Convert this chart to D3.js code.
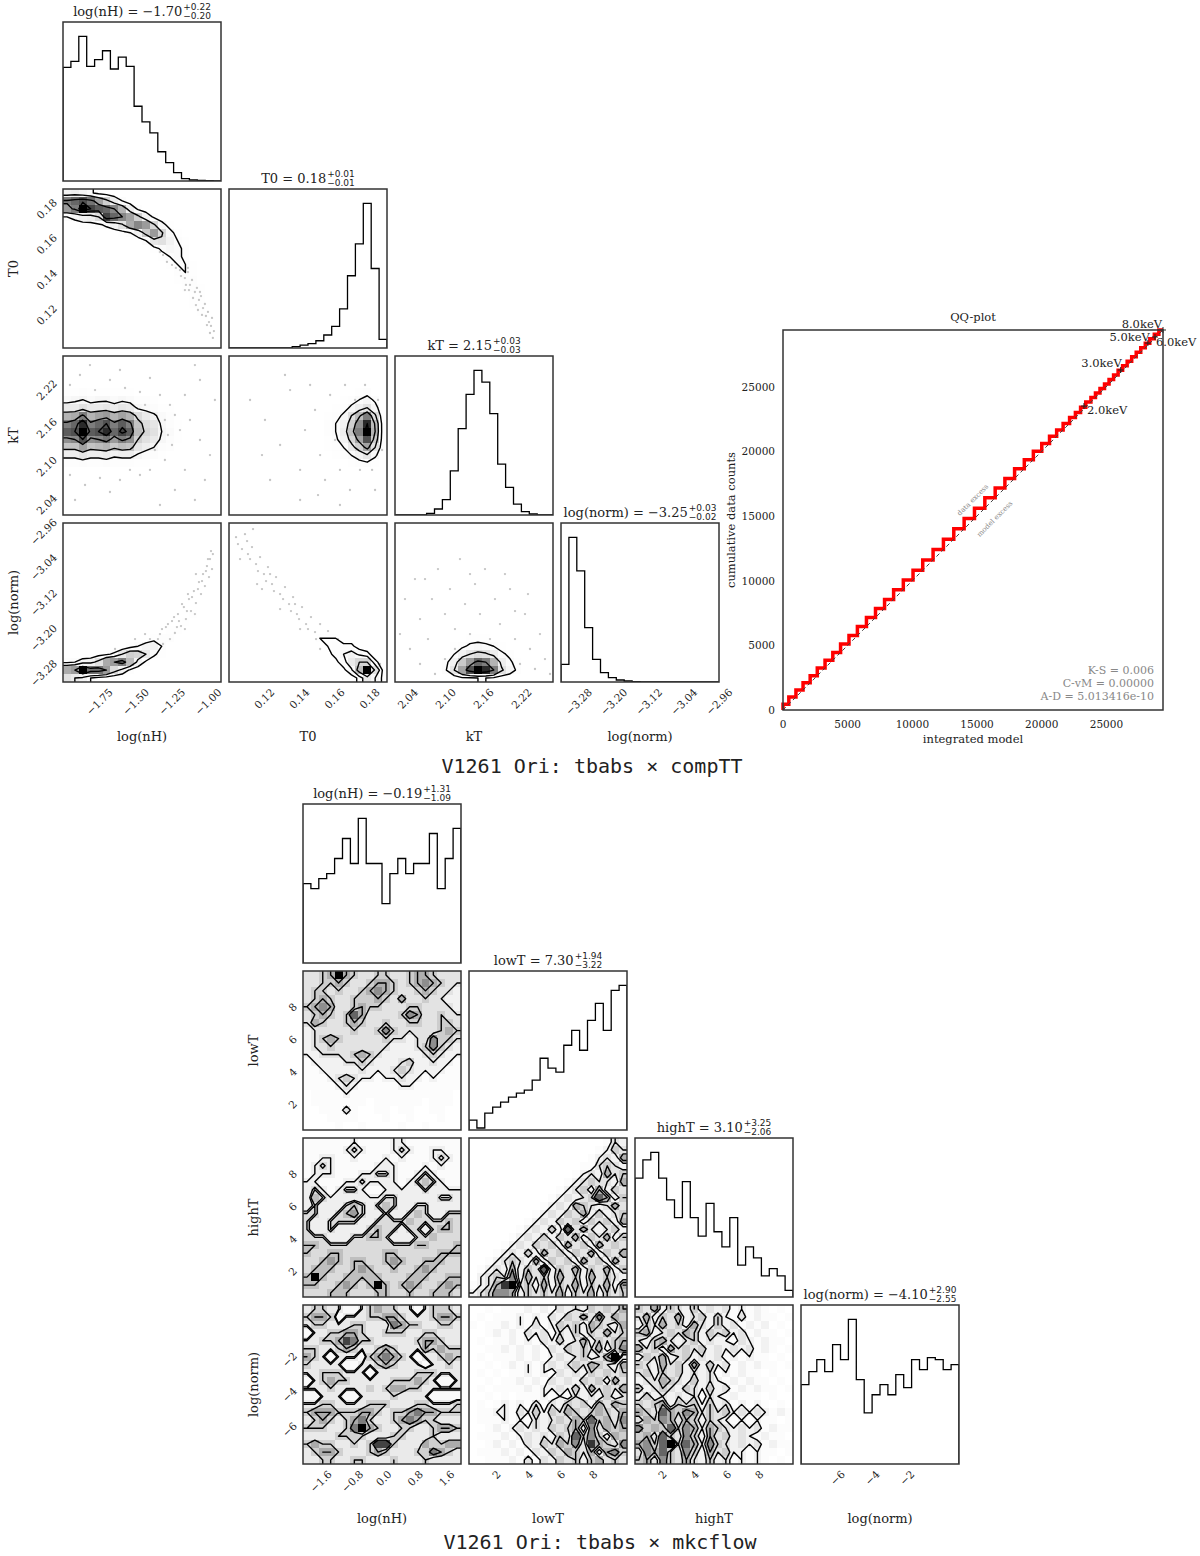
<!DOCTYPE html>
<html>
<head>
<meta charset="utf-8">
<title>V1261 Ori corner plots</title>
<script src="https://cdn.jsdelivr.net/npm/d3@7"></script>
<style>
  body { margin: 0; background: #fff; }
  svg text { font-family: "DejaVu Serif", serif; fill: #222; }
</style>
</head>
<body>
<svg id="chart" width="1200" height="1556"></svg>
<script>
// ---------- compTT fit (upper corner plot) ----------
var topNames = ["log(nH)", "T0", "kT", "log(norm)"];
var topRanges = [[-2.0, -0.91], [0.10, 0.19], [2.02, 2.27], [-3.32, -2.96]];
var topTicks = [[-1.75, -1.5, -1.25, -1.0], [0.12, 0.14, 0.16, 0.18], [2.04, 2.10, 2.16, 2.22], [-3.28, -3.20, -3.12, -3.04, -2.96]];
var topTitles = [["log(nH) = −1.70", "+0.22", "−0.20"], ["T0 = 0.18", "+0.01", "−0.01"],
                 ["kT = 2.15", "+0.03", "−0.03"], ["log(norm) = −3.25", "+0.03", "−0.02"]];

var topHistNH = [342, 360, 435, 345, 365, 392, 337, 373, 345, 225, 178, 145, 88, 55, 25, 7, 3, 2, 1, 0];
var topHistT0 = [0, 0, 0, 0, 0, 0, 0, 0, 1, 2, 3, 5, 9, 15, 27, 50, 72, 100, 55, 6];
var topHistKT = [0, 0, 0, 0, 5, 18, 46, 133, 260, 363, 435, 400, 305, 153, 83, 33, 10, 3, 0, 0];
var topHistNorm = [53, 433, 333, 163, 68, 28, 13, 6, 3, 1, 0, 0, 0, 0, 0, 0, 0, 0, 0, 0];

// 2D histograms, 20x20, top row = highest y value, base-36 counts
var gridT0NH = [
  "89752100000000000000", "prtqlf94100000000000", "mpzusroj931000000000", "4689durolf8310000000",
  "1122358ckome62100000", "0000011248gme6210000", "00000000014bc8421000", "00000000000256531000",
  "00000000000024531000", "00000000000002442000", "00000000000001342100", "00000000000000233100",
  "00000000000000123200", "00000000000000012210", "00000000000000002210", "00000000000000001210",
  "00000000000000000110", "00000000000000000010", "00000000000000000000", "00000000000000000000"];
var gridKTNH = [
  "00000000000000000000", "00000000000000000000", "00000000000000000000", "11111111100000000000",
  "22322222211100000000", "56756656533211000000", "aacaab9ba65422100000", "jkpjlmjljda853110000",
  "prwprtpsphdb64210000", "stzstwrusiec75210000", "notnoqmpnfca64210000", "hhlhijgihb9743100000",
  "99b99a89964421100000", "33433433322110000000", "11111111111000000000", "00000000000000000000",
  "00000000000000000000", "00000000000000000000", "00000000000000000000", "00000000000000000000"];
var gridKTT0 = [
  "00000000000000000000", "00000000000000000000", "00000000000000000000", "00000000000000000100",
  "00000000000000112310", "00000000000001235740", "00000000000012369c71", "000000000001236cipd1",
  "000000000011358fnwi2", "000000000011359hpzj2", "000000000001248eltg2", "000000000000235aflc1",
  "00000000000012358b61", "00000000000000123420", "00000000000000001110", "00000000000000000000",
  "00000000000000000000", "00000000000000000000", "00000000000000000000", "00000000000000000000"];
var gridNormNH = [
  "00000000000000000000", "00000000000000000000", "00000000000000000000", "00000000000000000000",
  "00000000000000000001", "00000000000000000001", "00000000000000000010", "00000000000000000010",
  "00000000000000000110", "00000000000000000100", "00000000000000001100", "00000000000000012000",
  "00000000000000121000", "00000000000002210000", "00000000000233100000", "00000000247841000000",
  "0000235afea520000000", "3478ckmpi83100000000", "kmzqqmd8310000000000", "ca842100000000000000"];
var gridNormT0 = [
  "00000000000000000000", "00000000000000000000", "00000000000000000000", "00000000000000000000",
  "00000000000000000000", "00100000000000000000", "00010000000000000000", "00001000000000000000",
  "00000100000000000000", "00000110000000000000", "00000011000000000000", "00000001100000000000",
  "00000000111000000000", "00000000011100000000", "00000000001222000000", "00000000000123330000",
  "00000000000013685300", "000000000000014aee30", "0000000000000015izc1", "00000000000000003a61"];
var gridNormKT = [
  "00000000000000000000", "00000000000000000000", "00000000000000000000", "00000000000000000000",
  "00000000000000000000", "00000000000000000000", "00000000000000000000", "00000000000000000000",
  "00000000000000000000", "00000000000000000000", "00000000000000000000", "00000000000000000000",
  "00000000011100000000", "00000000111110000000", "00000001122211000000", "00000002356542110000",
  "000000148bdc95310000", "00000138gmrpj9521000", "0000014bltzwpc731000", "00000001334431100000"];

// posterior samples visible outside the contours
var ptsT0NH = [[-1.400, 0.1657], [-1.359, 0.1634], [-1.331, 0.1583], [-1.317, 0.1623], [-1.297, 0.1555], [-1.276, 0.1589],
  [-1.262, 0.1521], [-1.241, 0.1555], [-1.228, 0.1487], [-1.207, 0.1509], [-1.193, 0.1441], [-1.172, 0.1475],
  [-1.159, 0.1396], [-1.138, 0.1430], [-1.124, 0.1357], [-1.110, 0.1385], [-1.090, 0.1317], [-1.076, 0.1340],
  [-1.062, 0.1272], [-1.048, 0.1294], [-1.034, 0.1226], [-1.021, 0.1249], [-1.014, 0.1181], [-1.000, 0.1204],
  [-0.993, 0.1147], [-0.979, 0.1125], [-0.972, 0.1170], [-0.959, 0.1096], [-1.083, 0.1243], [-1.159, 0.1328],
  [-1.248, 0.1470], [-1.331, 0.1543], [-1.345, 0.1668], [-1.434, 0.1679], [-1.814, 0.1838], [-1.745, 0.1826],
  [-1.676, 0.1815], [-1.607, 0.1792], [-1.538, 0.1758], [-1.469, 0.1724], [-1.779, 0.1855], [-1.641, 0.1838],
  [-1.883, 0.1736], [-1.745, 0.1702], [-1.572, 0.1657], [-1.469, 0.1623],
  [-1.386, 0.1611], [-1.345, 0.1600], [-1.310, 0.1526], [-1.283, 0.1487], [-1.255, 0.1566], [-1.221, 0.1453],
  [-1.186, 0.1407], [-1.200, 0.1487], [-1.152, 0.1357], [-1.131, 0.1328], [-1.103, 0.1283], [-1.069, 0.1215],
  [-1.041, 0.1187], [-1.007, 0.1130], [-0.986, 0.1085], [-0.966, 0.1057], [-1.055, 0.1317], [-1.138, 0.1453]];
var ptsKTNH = [[-1.952, 2.2244], [-1.883, 2.2401], [-1.779, 2.2165], [-1.676, 2.2323], [-1.572, 2.2197], [-1.469, 2.2134],
  [-1.400, 2.2354], [-1.331, 2.2087], [-1.262, 2.1930], [-1.228, 2.1772], [-1.193, 2.1536], [-1.248, 2.1301],
  [-1.297, 2.1065], [-1.400, 2.0908], [-1.469, 2.0829], [-1.607, 2.0750], [-1.745, 2.0782], [-1.848, 2.0672],
  [-1.952, 2.0829], [-1.124, 2.1694], [-1.055, 2.1379], [-0.986, 2.1143], [-1.021, 2.0750], [-1.090, 2.0436],
  [-1.159, 2.0908], [-1.228, 2.0593], [-1.331, 2.0357], [-0.952, 2.2008], [-1.055, 2.2323], [-1.159, 2.2087],
  [-1.297, 2.1694], [-1.276, 2.1458], [-1.366, 2.1222], [-1.434, 2.1930], [-1.538, 2.0908], [-1.676, 2.0562],
  [-1.917, 2.0436], [-1.814, 2.2558], [-1.607, 2.2480], [-1.090, 2.2558]];
var ptsKTT0 = [[0.1120, 2.2008], [0.1205, 2.1694], [0.1291, 2.1301], [0.1348, 2.2165], [0.1405, 2.0908], [0.1433, 2.1536],
  [0.1490, 2.1851], [0.1519, 2.1143], [0.1547, 2.0750], [0.1576, 2.2087], [0.1604, 2.1379], [0.1632, 2.0908],
  [0.1661, 2.2244], [0.1689, 2.0593], [0.1718, 2.2008], [0.1746, 2.0908], [0.1775, 2.2244], [0.1815, 2.0908],
  [0.1849, 2.2008], [0.1872, 2.1222], [0.1405, 2.0436], [0.1234, 2.0750], [0.1319, 2.2401], [0.1462, 2.2244],
  [0.1632, 2.0357], [0.1832, 2.0593], [0.1188, 2.1143], [0.1507, 2.0514]];
var ptsNormNH = [[-1.400, -3.2227], [-1.366, -3.2453], [-1.331, -3.2114], [-1.310, -3.2340], [-1.290, -3.1956],
  [-1.262, -3.2227], [-1.248, -3.1820], [-1.228, -3.2091], [-1.207, -3.1662], [-1.186, -3.1933], [-1.166, -3.1503],
  [-1.152, -3.1775], [-1.131, -3.1322], [-1.117, -3.1594], [-1.097, -3.1141], [-1.083, -3.1413], [-1.062, -3.0938],
  [-1.048, -3.1209], [-1.034, -3.0757], [-1.021, -3.1028], [-1.007, -3.0576], [-0.993, -3.0824], [-0.986, -3.0417],
  [-0.972, -3.0643], [-0.966, -3.0304], [-1.469, -3.2408], [-1.538, -3.2567], [-1.607, -3.2680], [-1.676, -3.2725],
  [-1.745, -3.2793], [-1.814, -3.2815], [-1.641, -3.2453], [-1.503, -3.2227], [-1.434, -3.2114], [-1.159, -3.2001],
  [-1.090, -3.1662],
  [-1.386, -3.2340], [-1.345, -3.2227], [-1.317, -3.2001], [-1.276, -3.1888], [-1.234, -3.1729], [-1.214, -3.1956],
  [-1.179, -3.1435], [-1.145, -3.1594], [-1.110, -3.1277], [-1.069, -3.1096], [-1.041, -3.0915], [-1.014, -3.0689],
  [-1.000, -3.0417], [-0.979, -3.0236], [-1.083, -3.0757], [-1.138, -3.1209], [-1.200, -3.1820]];
var ptsNormT0 = [[0.1051, -3.0078], [0.1091, -2.9852], [0.1108, -3.0304], [0.1131, -3.0146], [0.1154, -3.0530],
  [0.1177, -3.0372], [0.1199, -3.0757], [0.1222, -3.0598], [0.1245, -3.0983], [0.1268, -3.0824], [0.1291, -3.1209],
  [0.1319, -3.1051], [0.1342, -3.1435], [0.1365, -3.1277], [0.1387, -3.1662], [0.1416, -3.1503], [0.1439, -3.1888],
  [0.1467, -3.1729], [0.1490, -3.2069], [0.1519, -3.1888], [0.1541, -3.2227], [0.1564, -3.2046], [0.1593, -3.2408],
  [0.1621, -3.2227], [0.1650, -3.2567], [0.1678, -3.2385], [0.1137, -2.9738], [0.1188, -3.1096], [0.1291, -3.1548],
  [0.1405, -3.2001], [0.1519, -3.2453], [0.1689, -3.2793], [0.1775, -3.2567], [0.1860, -3.2793], [0.1063, -3.0417],
  [0.1160, -3.0983],
  [0.1074, -3.0191], [0.1120, -3.0417], [0.1165, -3.0689], [0.1211, -3.0915], [0.1256, -3.1141], [0.1308, -3.1322],
  [0.1353, -3.1594], [0.1399, -3.1775], [0.1450, -3.2001], [0.1496, -3.2227], [0.1553, -3.2340], [0.1610, -3.2499],
  [0.1667, -3.2680], [0.1724, -3.2861], [0.1040, -2.9920], [0.1103, -3.0010], [0.1234, -3.0757], [0.1376, -3.1435]];
var ptsNormKT = [[2.0358, -3.1322], [2.0516, -3.0870], [2.0596, -3.1775], [2.0722, -3.2227], [2.0785, -3.1322],
  [2.0880, -3.0643], [2.0991, -3.1662], [2.1070, -3.1096], [2.1149, -3.2001], [2.1228, -3.0417], [2.1308, -3.1435],
  [2.1387, -3.2114], [2.1466, -3.0983], [2.1545, -3.1662], [2.1624, -3.0643], [2.1703, -3.2227], [2.1782, -3.1322],
  [2.1861, -3.1888], [2.1940, -3.2567], [2.2020, -3.1096], [2.2099, -3.2227], [2.2178, -3.2793], [2.2257, -3.1662],
  [2.2336, -3.2453], [2.2415, -3.2906], [2.2494, -3.2114], [2.2573, -3.2680], [2.2653, -3.3019], [2.0437, -3.2453],
  [2.0596, -3.2793], [2.0833, -3.3019], [2.0675, -3.0870], [2.1387, -3.0757], [2.1940, -3.0757], [2.1149, -3.2453],
  [2.1703, -3.2680], [2.2099, -3.1594], [2.0991, -3.2680], [2.0279, -3.2114], [2.2304, -3.1209]];

// ---------- mkcflow fit (lower corner plot) ----------
var botNames = ["log(nH)", "lowT", "highT", "log(norm)"];
var botRanges = [[-2.05, 1.97], [0.3, 10.1], [0.3, 10.1], [-8.1, 1.0]];
var botTicks = [[-1.6, -0.8, 0.0, 0.8, 1.6], [2, 4, 6, 8], [2, 4, 6, 8], [-6, -4, -2]];
var botTitles = [["log(nH) = −0.19", "+1.31", "−1.09"], ["lowT = 7.30", "+1.94", "−3.22"],
                 ["highT = 3.10", "+3.25", "−2.06"], ["log(norm) = −4.10", "+2.90", "−2.55"]];

var botHistNH = [238, 223, 253, 268, 313, 373, 298, 433, 298, 298, 178, 268, 313, 268, 298, 298, 388, 223, 313, 403];
var botHistLowT = [10, 2, 17, 23, 28, 33, 37, 40, 50, 72, 62, 58, 85, 100, 80, 110, 127, 100, 140, 145];
var botHistHighT = [355, 410, 432, 355, 290, 237, 345, 237, 182, 280, 195, 150, 237, 95, 150, 117, 63, 85, 63, 20];
var botHistNorm = [79, 92, 104, 92, 119, 104, 144, 84, 51, 69, 79, 69, 89, 76, 104, 94, 106, 104, 94, 99];

var gridLowTNH = [
  "33459543344334554333", "33445433455434565433", "34434334565433454332", "34543344454353343322",
  "45653345443334433332", "34543475333346533433", "35433454334334433443", "23333343346433333454",
  "23454333334332336443", "23343333333222346432", "22333345432222234322", "12222334322234223221",
  "11222223222343222211", "11123432212232212111", "11112321111122111111", "01111211111111111110",
  "01111111011111101110", "00111310011011001100", "00011110001001000100", "00001001000010010000"];
var gridHighTNH = [
  "11111121111221111111", "11111232111232112211", "11221121112121112321", "12321111122211121211",
  "12221112233211232111", "22111223222212343211", "23212332112222232222", "24322222223322222332",
  "23222343234322332222", "33223453223223432233", "32233332233334333343", "32232222343323323443",
  "33322233443222334333", "44333333333333443334", "43344333334433333444", "33454344334543344433",
  "34443345433433454333", "48433444443334443344", "44334543484345433454", "33344433344334334443"];
var gridHighTLowT = [
  "00000000000000000132", "00000000000000001243", "00000000000000012325", "00000000000000113432",
  "00000000000001232534", "00000000000012343325", "00000000000123425243", "00000000001232347524",
  "00000000012325432353", "00000000123243524234", "00000001232434243425", "00000012324273532342",
  "00000123242435243524", "00001232434253425343", "00012324253424352435", "00123432524342534253",
  "01232524372435243524", "02343625342534253432", "12358934252435243525", "23466524343524352434"];
var gridNormNHb = [
  "23322112343322123332", "34431222334432223443", "23322233222543322332", "12233443223332233222",
  "22334653322222344322", "33223432234322243433", "43212221345432122343", "32222112234322212232",
  "22333222122222333222", "12343322222333432112", "22232222323443322222", "11222112222322221111",
  "22332222333222332223", "34443334432334544333", "23432345322345433222", "33322357432233223443",
  "22223333222332223222", "34332232366322243344", "23443222343222335432", "22332233222322232222"];
var gridNormLowT = [
  "00101112121323243435", "01011121213243536354", "10112121312434254325", "00121213231324243534",
  "01011212132423524345", "00112121213243435246", "01011121212323423592", "00101212123234354325",
  "01010112121323243434", "00101121213232434253", "01011112122324253435", "00101011121213232423",
  "01012121313243425354", "01122132424354345435", "01112121323435474536", "00121232324345263545",
  "01112123232437464254", "00121213243546385436", "01112121324354352564", "00111213132434245343"];
var gridNormHighT = [
  "43524324232312121010", "35243523424213121101", "24353425324231212010", "45234354243423121101",
  "32453234232213212110", "53425343423232312101", "24352342323121211010", "43253425242312121101",
  "34243423231212110100", "23354324232121211010", "42343243242312121101", "24232323132121110100",
  "43452434242312121010", "54375465343423232121", "35465354243212121101", "64547465354323231211",
  "45374364253423212110", "56479475364323231211", "36574364253422121101", "45364353242312121010"];

// ---------- QQ plot ----------
var qqModel = [0, 450, 1000, 1550, 2100, 2650, 3250, 3850, 4450, 5100, 5750, 6450, 7150, 7850, 8550, 9300, 10050,
  10800, 11600, 12400, 13200, 14000, 14800, 15600, 16400, 17150, 17900, 18650, 19350, 20000, 20600, 21150, 21650,
  22150, 22600, 23000, 23400, 23800, 24150, 24500, 24850, 25200, 25550, 25900, 26250, 26600, 26950, 27300, 27650,
  28000, 28350, 28700, 29050, 29370];
var qqData = [0, 450, 1000, 1550, 2100, 2650, 3250, 3850, 4450, 5100, 5750, 6450, 7150, 7850, 8550, 9300, 10050,
  10800, 11600, 12400, 13200, 14000, 14800, 15600, 16400, 17150, 17900, 18650, 19350, 20000, 20600, 21150, 21650,
  22150, 22600, 23000, 23400, 23800, 24150, 24500, 24850, 25200, 25550, 25900, 26250, 26600, 26950, 27300, 27650,
  28000, 28350, 28700, 29050, 29370];
var qqEnergyLabels = ["2.0keV", "3.0keV", "5.0keV", "6.0keV", "8.0keV"];
var qqEnergyModel = [23260, 26100, 28200, 28750, 29370];
var qqEnergyData = [23490, 26280, 28360, 28830, 29370];
var qqTicks = [0, 5000, 10000, 15000, 20000, 25000];
var qqStats = ["K-S = 0.006", "C-vM = 0.00000", "A-D = 5.013416e-10"];

// ---------- drawing ----------
var svg = d3.select("#chart");
var PW = 158, PH = 159, NB = 20;
var sigmaLevels = [0.5, 1, 1.5, 2].map(function(s) { return 1 - Math.exp(-0.5 * s * s); });
var clipCount = 0;

function parseGrid(rows) {
  return rows.map(function(s) {
    return s.padEnd(NB, "0").slice(0, NB).split("").map(function(ch) { return parseInt(ch, 36); });
  });
}

// same level choice as corner.hist2d
function cornerLevels(H) {
  var flat = [].concat.apply([], H).sort(function(a, b) { return b - a; });
  var total = d3.sum(flat), run = 0;
  var cum = flat.map(function(v) { run += v; return run / total; });
  var V = sigmaLevels.map(function(l) {
    var v = flat[0];
    for (var k = 0; k < flat.length; k++) if (cum[k] <= l) v = flat[k];
    return v;
  }).sort(d3.ascending);
  for (var guard = 0; guard < 20; guard++) {
    var dup = -1;
    for (var i = 0; i < V.length - 1; i++) if (V[i + 1] === V[i]) { dup = i; break; }
    if (dup < 0) break;
    V[dup] *= 0.9;
  }
  return V;
}

// pad like corner: one ring copying the edge, one ring of zeros
function padGrid(H) {
  var M = NB + 4, P = new Array(M * M).fill(0);
  function at(r, c) { return H[Math.max(0, Math.min(NB - 1, r))][Math.max(0, Math.min(NB - 1, c))]; }
  for (var r = -1; r <= NB; r++)
    for (var c = -1; c <= NB; c++) P[(r + 2) * M + (c + 2)] = at(r, c);
  return P;
}

function drawPair(g, rows, xs, ys, pts) {
  var H = parseGrid(rows), V = cornerLevels(H), M = NB + 4;
  var hmax = d3.max(H, function(r) { return d3.max(r); });
  var xd = xs.domain(), yd = ys.domain();
  var gx = d3.scaleLinear().domain([2, 2 + NB]).range(xd);
  var gy = d3.scaleLinear().domain([2, 2 + NB]).range([yd[1], yd[0]]);
  var path = d3.geoPath(d3.geoTransform({
    point: function(x, y) { this.stream.point(xs(gx(x)), ys(gy(y))); }
  }));
  var cs = d3.contours().size([M, M]).thresholds(V)(padGrid(H));

  if (pts) {
    g.selectAll("circle.pt").data(pts).join("circle")
      .attr("class", "pt")
      .attr("cx", function(d) { return xs(d[0]); })
      .attr("cy", function(d) { return ys(d[1]); })
      .attr("r", 1.15)
      .attr("fill", "#8a8a8a")
      .attr("fill-opacity", 0.5);
  }
  g.append("path").attr("d", path(cs[0])).attr("fill", "#fff");

  var bx = d3.scaleLinear().domain([0, NB]).range(xd);
  var by = d3.scaleLinear().domain([0, NB]).range([yd[1], yd[0]]);
  var cells = [];
  H.forEach(function(row, r) { row.forEach(function(v, c) { if (v > 0) cells.push({ r: r, c: c, v: v }); }); });
  g.selectAll("rect.cell").data(cells).join("rect")
    .attr("class", "cell")
    .attr("x", function(d) { return xs(bx(d.c)); })
    .attr("y", function(d) { return ys(by(d.r)); })
    .attr("width", function(d) { return xs(bx(d.c + 1)) - xs(bx(d.c)); })
    .attr("height", function(d) { return ys(by(d.r + 1)) - ys(by(d.r)); })
    .attr("fill", function(d) { var k = Math.round(255 * (1 - d.v / hmax)); return "rgb(" + k + "," + k + "," + k + ")"; })
    .attr("fill-opacity", function(d) { return d.v / hmax; })
    .attr("shape-rendering", "crispEdges");

  g.selectAll("path.lvl").data(cs).join("path")
    .attr("class", "lvl")
    .attr("d", path)
    .attr("fill", "none")
    .attr("stroke", "#000")
    .attr("stroke-width", 1.4)
    .attr("stroke-linejoin", "round");
}

function drawHist(g, counts, xs, y0) {
  var ys = d3.scaleLinear().domain([0, 1.1 * d3.max(counts)]).range([y0 + PH, y0]);
  var bx = d3.scaleLinear().domain([0, counts.length]).range(xs.domain());
  var pts = [[0, 0]];
  counts.forEach(function(v, i) { pts.push([i, v], [i + 1, v]); });
  pts.push([counts.length, 0]);
  var line = d3.line().x(function(d) { return xs(bx(d[0])); }).y(function(d) { return ys(d[1]); });
  g.append("path").attr("d", line(pts))
    .attr("fill", "none").attr("stroke", "#000").attr("stroke-width", 1.3);
}

function drawTitle(g, cx, baseY, parts) {
  var main = g.append("text").attr("y", baseY).attr("font-size", 13).text(parts[0]);
  var sup = g.append("text").attr("y", baseY - 6).attr("font-size", 9)
    .style("font-family", "'DejaVu Sans', sans-serif").text(parts[1]);
  var sub = g.append("text").attr("y", baseY + 3).attr("font-size", 9)
    .style("font-family", "'DejaVu Sans', sans-serif").text(parts[2]);
  var w = main.node().getComputedTextLength();
  var ws = Math.max(sup.node().getComputedTextLength(), sub.node().getComputedTextLength());
  var x0 = cx - (w + 1 + ws) / 2;
  main.attr("x", x0);
  sup.attr("x", x0 + w + 1);
  sub.attr("x", x0 + w + 1);
}

function xTickLabels(g, scale, ticks, fmt, yAxis) {
  g.selectAll(null).data(ticks).join("text")
    .attr("font-size", 10.5)
    .attr("text-anchor", "middle")
    .attr("dominant-baseline", "central")
    .text(fmt)
    .each(function(d) {
      var bb = (this.getComputedTextLength() + 9) * Math.SQRT1_2;
      d3.select(this).attr("transform", "translate(" + scale(d) + "," + (yAxis + 5 + bb / 2) + ") rotate(-45)");
    });
}

// rotated y labels hang a little below their tick, more for the long ones
function yTickLabels(g, scale, ticks, fmt, xAxis) {
  g.selectAll(null).data(ticks).join("text")
    .attr("font-size", 10.5)
    .attr("text-anchor", "middle")
    .attr("dominant-baseline", "central")
    .text(fmt)
    .each(function(d) {
      var len = this.getComputedTextLength();
      var bb = (len + 9) * Math.SQRT1_2;
      var drop = 2 + Math.max(0, len - 24) * 0.8;
      d3.select(this).attr("transform", "translate(" + (xAxis - 5 - bb / 2) + "," + (scale(d) + drop) + ") rotate(-45)");
    });
}

function corner(cfg) {
  var n = cfg.names.length;
  var root = svg.append("g");
  var xsc = [], ysc = [];
  for (var i = 0; i < n; i++) {
    var x0 = cfg.left + i * cfg.dx, y0 = cfg.top + i * cfg.dy;
    xsc.push(d3.scaleLinear().domain(cfg.ranges[i]).range([x0, x0 + PW]));
    ysc.push(d3.scaleLinear().domain(cfg.ranges[i]).range([y0 + PH, y0]));
  }
  for (var row = 0; row < n; row++) {
    for (var col = 0; col <= row; col++) {
      var px = cfg.left + col * cfg.dx, py = cfg.top + row * cfg.dy;
      var id = "clip" + (clipCount++);
      root.append("clipPath").attr("id", id)
        .append("rect").attr("x", px).attr("y", py).attr("width", PW).attr("height", PH);
      var pg = root.append("g").attr("clip-path", "url(#" + id + ")");
      if (row === col) {
        drawHist(pg, cfg.hists[col], xsc[col], py);
        drawTitle(root, px + PW / 2, py - 6, cfg.titles[col]);
      } else {
        var key = row + "," + col;
        drawPair(pg, cfg.grids[key], xsc[col], ysc[row], cfg.points ? cfg.points[key] : null);
      }
      root.append("rect").attr("x", px).attr("y", py).attr("width", PW).attr("height", PH)
        .attr("fill", "none").attr("stroke", "#333").attr("stroke-width", 1.5);
      if (row === n - 1) {
        xTickLabels(root, xsc[col], cfg.ticks[col], cfg.fmts[col], py + PH);
        root.append("text").attr("x", px + PW / 2).attr("y", py + PH + 54)
          .attr("text-anchor", "middle").attr("dominant-baseline", "central")
          .attr("font-size", 13).text(cfg.names[col]);
      }
      if (col === 0 && row > 0) {
        yTickLabels(root, ysc[row], cfg.ticks[row], cfg.fmts[row], px);
        root.append("text")
          .attr("transform", "translate(" + (px - 50) + "," + (py + PH / 2) + ") rotate(-90)")
          .attr("text-anchor", "middle").attr("dominant-baseline", "central")
          .attr("font-size", 13).text(cfg.names[row]);
      }
    }
  }
}

var f2 = d3.format(".2f"), f1 = d3.format(".1f"), f0 = d3.format("d");

corner({
  names: topNames, ranges: topRanges, ticks: topTicks, titles: topTitles,
  fmts: [f2, f2, f2, f2],
  hists: [topHistNH, topHistT0, topHistKT, topHistNorm],
  grids: { "1,0": gridT0NH, "2,0": gridKTNH, "2,1": gridKTT0, "3,0": gridNormNH, "3,1": gridNormT0, "3,2": gridNormKT },
  points: { "1,0": ptsT0NH, "2,0": ptsKTNH, "2,1": ptsKTT0, "3,0": ptsNormNH, "3,1": ptsNormT0, "3,2": ptsNormKT },
  left: 63, top: 22, dx: 166, dy: 167
});

corner({
  names: botNames, ranges: botRanges, ticks: botTicks, titles: botTitles,
  fmts: [f1, f0, f0, f0],
  hists: [botHistNH, botHistLowT, botHistHighT, botHistNorm],
  grids: { "1,0": gridLowTNH, "2,0": gridHighTNH, "2,1": gridHighTLowT, "3,0": gridNormNHb, "3,1": gridNormLowT, "3,2": gridNormHighT },
  left: 303, top: 804, dx: 166, dy: 167
});

// captions
svg.append("text").attr("x", 592).attr("y", 773).attr("text-anchor", "middle")
  .style("font-family", "'DejaVu Sans Mono', monospace").attr("font-size", 20)
  .text("V1261 Ori: tbabs × compTT");
svg.append("text").attr("x", 600).attr("y", 1549).attr("text-anchor", "middle")
  .style("font-family", "'DejaVu Sans Mono', monospace").attr("font-size", 20)
  .text("V1261 Ori: tbabs × mkcflow");

// QQ plot
(function() {
  var qx = d3.scaleLinear().domain([0, 29370]).range([783, 1163]);
  var qy = d3.scaleLinear().domain([0, 29370]).range([710, 330]);
  var g = svg.append("g");
  var pts = qqModel.map(function(m, i) { return [m, qqData[i]]; });

  g.append("path")
    .attr("d", d3.line().curve(d3.curveStepBefore).x(function(d) { return qx(d[0]); }).y(function(d) { return qy(d[1]); })(pts))
    .attr("fill", "none").attr("stroke", "#ff0000").attr("stroke-width", 3.5);
  g.append("line")
    .attr("x1", qx(0)).attr("y1", qy(0)).attr("x2", qx(29370)).attr("y2", qy(29370))
    .attr("stroke", "#444").attr("stroke-width", 1).attr("stroke-dasharray", "4,3");

  var labelPos = {
    "2.0keV": { dx: 3, dy: 8, anchor: "start" }, "3.0keV": { dx: 1, dy: -3, anchor: "end" },
    "5.0keV": { dx: 2, dy: -2, anchor: "end" }, "6.0keV": { dx: 1, dy: 9, anchor: "start" },
    "8.0keV": { dx: -1, dy: -2, anchor: "end" }
  };
  qqEnergyLabels.forEach(function(lab, i) {
    var x = qx(qqEnergyModel[i]), y = qy(qqEnergyData[i]), p = labelPos[lab];
    g.append("path").attr("d", "M" + (x - 3) + "," + y + "h6M" + x + "," + (y - 3) + "v6")
      .attr("stroke", "#222").attr("stroke-width", 1);
    g.append("text").attr("x", x + p.dx).attr("y", y + p.dy).attr("text-anchor", p.anchor)
      .attr("font-size", 11.5).text(lab);
  });

  g.append("text").attr("transform", "translate(" + qx(14680) + "," + qy(16230) + ") rotate(-45)")
    .attr("text-anchor", "middle").attr("dominant-baseline", "central")
    .attr("font-size", 7).style("fill", "#888").text("data excess");
  g.append("text").attr("transform", "translate(" + qx(16380) + "," + qy(14760) + ") rotate(-45)")
    .attr("text-anchor", "middle").attr("dominant-baseline", "central")
    .attr("font-size", 7).style("fill", "#888").text("model excess");

  g.append("rect").attr("x", 783).attr("y", 330).attr("width", 380).attr("height", 380)
    .attr("fill", "none").attr("stroke", "#333").attr("stroke-width", 1.5);

  g.selectAll(null).data(qqTicks).join("text")
    .attr("x", function(d) { return qx(d); }).attr("y", 724)
    .attr("text-anchor", "middle").attr("dominant-baseline", "central")
    .attr("font-size", 10.5).text(function(d) { return d; });
  g.selectAll(null).data(qqTicks).join("text")
    .attr("x", 775).attr("y", function(d) { return qy(d); })
    .attr("text-anchor", "end").attr("dominant-baseline", "central")
    .attr("font-size", 10.5).text(function(d) { return d; });

  g.append("text").attr("x", 973).attr("y", 321).attr("text-anchor", "middle").attr("font-size", 11.5).text("QQ-plot");
  g.append("text").attr("x", 973).attr("y", 739).attr("text-anchor", "middle").attr("dominant-baseline", "central")
    .attr("font-size", 11.5).text("integrated model");
  g.append("text").attr("transform", "translate(731,520) rotate(-90)").attr("text-anchor", "middle")
    .attr("dominant-baseline", "central").attr("font-size", 11.5).text("cumulative data counts");

  g.selectAll(null).data(qqStats).join("text")
    .attr("x", 1154).attr("y", function(d, i) { return 670 + i * 13.3; })
    .attr("text-anchor", "end").attr("dominant-baseline", "central")
    .attr("font-size", 11).style("fill", "#888").text(function(d) { return d; });
})();
</script>
</body>
</html>
